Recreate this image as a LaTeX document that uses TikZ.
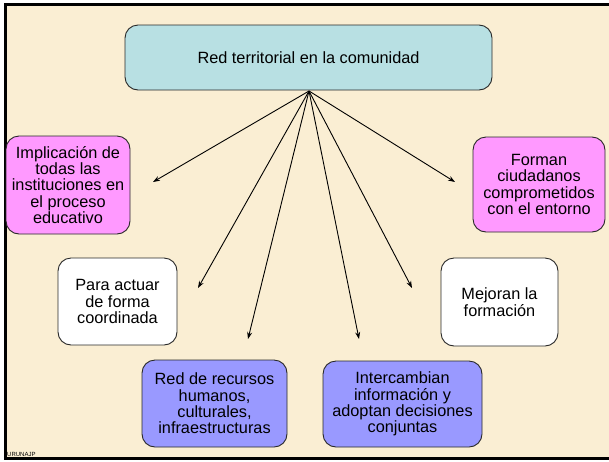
\documentclass[tikz,border=0pt]{standalone}
\usepackage{fontspec}
\setmainfont{Liberation Sans}
\definecolor{parch}{RGB}{250,238,211}
\definecolor{topfill}{RGB}{184,224,227}
\definecolor{pinkfill}{RGB}{255,153,255}
\definecolor{bluefill}{RGB}{153,153,255}
\definecolor{edge}{RGB}{40,40,40}
\tikzset{
  boxstyle/.style={draw=edge, line width=0.9pt, rounded corners=13pt, align=center,
    font=\fontsize{16.3}{16.4}\selectfont, inner sep=0pt},
  arr/.style={-{Stealth[length=7pt,width=5pt]}, line width=0.9pt, black},
}
\usetikzlibrary{arrows.meta}
\begin{document}
\begin{tikzpicture}[x=1pt,y=-1pt]
\useasboundingbox (0,0) rectangle (609,461);
\fill[white] (0,0) rectangle (609,461);
\fill[parch] (5,5) rectangle (609,458);
\draw[line width=3pt, black] (609,4.5) -- (5,4.5) -- (5,458.5) -- (609,458.5);

\node[boxstyle, fill=topfill, minimum width=367pt, minimum height=65pt] (top) at (308.5,57.5) {Red territorial en la comunidad};
\node[boxstyle, fill=pinkfill, minimum width=124pt, minimum height=98pt] (impl) at (68,185) {Implicación de\\todas las\\instituciones en\\el proceso\\educativo};
\node[boxstyle, fill=pinkfill, minimum width=132pt, minimum height=95pt] (forman) at (539,184.5) {Forman\\ciudadanos\\comprometidos\\con el entorno};
\node[boxstyle, fill=white, minimum width=119pt, minimum height=87pt] (para) at (117.5,301.5) {Para actuar\\de forma\\coordinada};
\node[boxstyle, fill=white, minimum width=117pt, minimum height=88pt] (mejoran) at (499.5,302) {Mejoran la\\formación};
\node[boxstyle, fill=bluefill, minimum width=145pt, minimum height=87pt] (recursos) at (214.5,403.5) {Red de recursos\\humanos,\\culturales,\\infraestructuras};
\node[boxstyle, fill=bluefill, minimum width=159pt, minimum height=86pt] (inter) at (402.5,404) {Intercambian\\información y\\adoptan decisiones\\conjuntas};

\coordinate (hub) at (309,91);
\coordinate (e1) at (153,182);
\coordinate (e2) at (198,288);
\coordinate (e3) at (248,339);
\coordinate (e4) at (359,339);
\coordinate (e5) at (412,288);
\coordinate (e6) at (455,182);
\foreach \e in {e1,e2,e3,e4,e5,e6} \draw[arr] (hub) -- (\e);

\node[font=\fontsize{6}{7}\selectfont, anchor=south west, inner sep=0pt] (foot) at (7,457) {URUNAJP};
\end{tikzpicture}
\end{document}
